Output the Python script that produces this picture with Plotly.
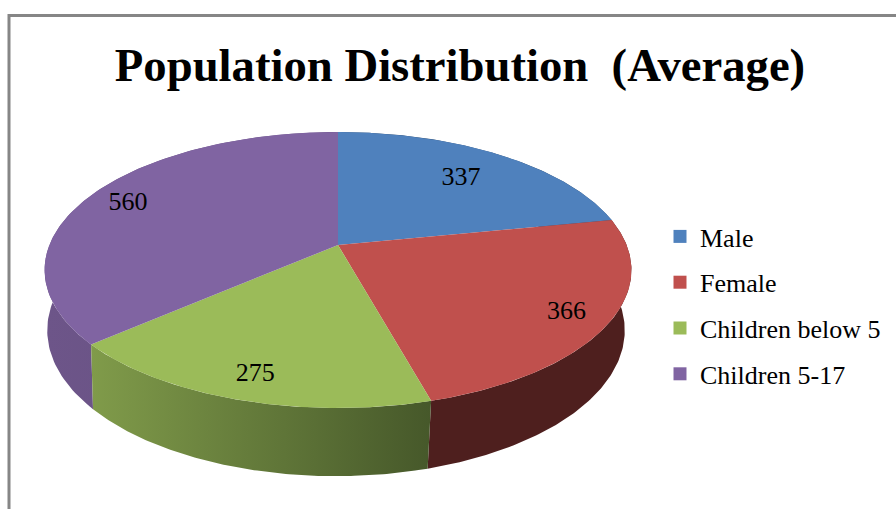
import numpy as np
import plotly.graph_objects as go

categories = ["Male", "Female", "Children below 5", "Children 5-17"]
values = [337, 366, 275, 560]
colors = ["#4F81BD", "#C0504D", "#9BBB59", "#8064A2"]
side_start = ["#2F4D71", "#4E1F1E", "#809B4A", "#6D5589"]
side_end = ["#2F4D71", "#4E1F1E", "#46582A", "#64507F"]
label_radius = [0.74, 0.855, 0.85, 0.85]
title = "Population Distribution  (Average)"

W, H = 896, 509
CX, CY, KX, KY, PERSP = 338, 245, 288.6, 133.5, 0.181
BX, BY, BKX, BKY = 336, 304, 284, 141
LABEL_DY = 2.5


def top(a, r=1.0):
    u, v = r * np.sin(a), r * np.cos(a)
    d = 1 + PERSP * v
    return CX + KX * u / d, CY - KY * v / d


def bottom(a):
    u, v = np.sin(a), np.cos(a)
    d = 1 + PERSP * v
    return BX + BKX * u / d, BY - BKY * v / d


shares = np.array(values, dtype=float) / sum(values)
edges = np.concatenate([[0], np.cumsum(shares)]) * 2 * np.pi

fig = go.Figure()
base = dict(mode="lines", line=dict(width=0), fill="toself", showlegend=False, hoverinfo="skip")

for i in [0, 3, 1, 2]:
    a = np.linspace(edges[i], edges[i + 1], 120)
    tx, ty = top(a)
    bx, by = bottom(a)
    fig.add_trace(go.Scatter(
        x=np.concatenate([tx, bx[::-1]]), y=np.concatenate([ty, by[::-1]]),
        fillgradient=dict(type="horizontal", colorscale=[[0, side_start[i]], [1, side_end[i]]]),
        **base))

for i in range(4):
    a = np.linspace(edges[i], edges[i + 1], 160)
    tx, ty = top(a)
    fig.add_trace(go.Scatter(
        x=np.concatenate([[CX], tx, [CX]]), y=np.concatenate([[CY], ty, [CY]]),
        fillcolor=colors[i], **base))

mid = (edges[:-1] + edges[1:]) / 2
lx, ly = top(mid, np.array(label_radius))
fig.add_trace(go.Scatter(
    x=lx, y=ly + LABEL_DY, mode="text", text=[str(v) for v in values], textposition="middle center",
    textfont=dict(family="Liberation Serif", size=26, color="#000000"),
    showlegend=False, hoverinfo="skip"))

for i, name in enumerate(categories):
    fig.add_trace(go.Scatter(
        x=[None], y=[None], mode="markers", name=name, legendgroup=name,
        marker=dict(symbol="square", size=13, color=colors[i])))

fig.update_layout(
    width=W, height=H, margin=dict(l=0, r=0, t=0, b=0),
    paper_bgcolor="white", plot_bgcolor="white",
    title=dict(text=title, x=460 / W, xanchor="center", y=1 - 65 / H, yanchor="middle",
               font=dict(family="Liberation Serif", size=46.7, color="#000000", weight="bold")),
    xaxis=dict(visible=False, range=[0, W], fixedrange=True),
    yaxis=dict(visible=False, range=[H, 0], fixedrange=True),
    legend=dict(x=660 / W, xanchor="left", y=1 - 213 / H, yanchor="top",
                font=dict(family="Liberation Serif", size=26, color="#000000"),
                tracegroupgap=9, bgcolor="rgba(0,0,0,0)", itemwidth=30),
    shapes=[
        dict(type="line", xref="x", yref="y", x0=9, x1=9, y0=14, y1=H, line=dict(color="#868686", width=3)),
        dict(type="line", xref="x", yref="y", x0=8, x1=W, y0=15.5, y1=15.5, line=dict(color="#868686", width=3)),
    ],
)

fig.write_html("out.html", config=dict(displayModeBar=False),
               post_script="document.body.style.margin='0';document.documentElement.style.overflow='hidden';")
